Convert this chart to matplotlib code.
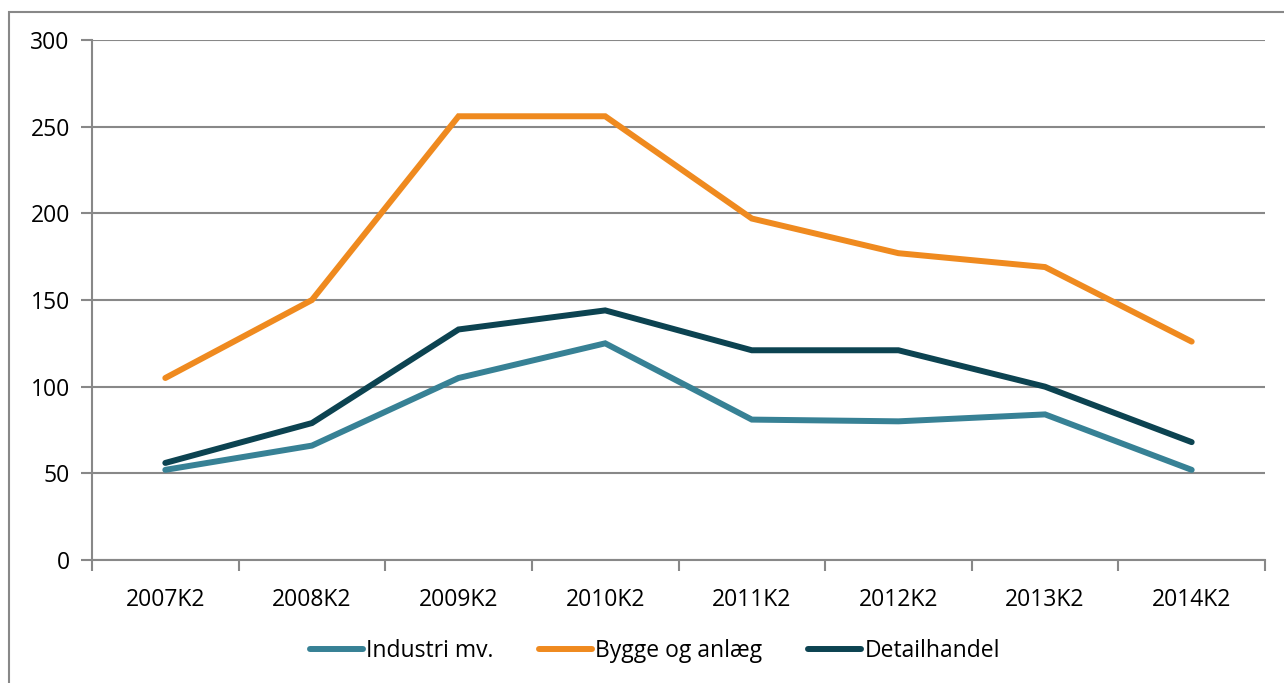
import matplotlib
matplotlib.use("Agg")
import matplotlib.pyplot as plt
from matplotlib.patches import Rectangle
from matplotlib.ticker import FixedLocator

categories = ["2007K2", "2008K2", "2009K2", "2010K2", "2011K2", "2012K2", "2013K2", "2014K2"]
industri = [52, 66, 105, 125, 81, 80, 84, 52]
bygge = [105, 150, 256, 256, 197, 177, 169, 126]
detail = [56, 79, 133, 144, 121, 121, 100, 68]
series_names = ["Industri mv.", "Bygge og anlæg", "Detailhandel"]
colors = ["#378195", "#EF8A1F", "#0C4351"]
yticks = [0, 50, 100, 150, 200, 250, 300]

plt.rcParams['font.family'] = ['Open Sans', 'DejaVu Sans']
W, H = 1284, 683
fig = plt.figure(figsize=(W / 100, H / 100), dpi=100)
ax = fig.add_axes([92 / W, (H - 560) / H, (1265 - 92) / W, (560 - 40) / H])

x = list(range(len(categories)))
for vals, name, c in zip([industri, bygge, detail], series_names, colors):
    ax.plot(x, vals, color=c, lw=4.3, label=name, solid_capstyle='round', solid_joinstyle='miter')

grey = "#888888"
fs = 16.5
ax.set_xlim(-0.5, len(categories) - 0.5)
ax.set_ylim(0, 300)
ax.set_yticks(yticks)
ax.yaxis.grid(True, color=grey, lw=1.5)
ax.set_axisbelow(True)
for s in ["top", "right"]:
    ax.spines[s].set_visible(False)
for s in ["left", "bottom"]:
    ax.spines[s].set_color(grey)
    ax.spines[s].set_linewidth(1.5)

ax.set_xticks(x)
ax.set_xticklabels(categories, fontsize=fs)
ax.xaxis.set_minor_locator(FixedLocator([i - 0.5 for i in range(len(categories) + 1)]))
ax.tick_params(axis='x', which='major', length=0, pad=20)
ax.tick_params(axis='x', which='minor', length=8, width=1.5, color=grey)
ax.tick_params(axis='y', length=8, width=1.5, color=grey, labelsize=fs, pad=8)

leg = ax.legend(loc='center', bbox_to_anchor=(0.48, -0.175), ncol=3, frameon=False,
                fontsize=fs, handlelength=2.3, handletextpad=0.15, columnspacing=2.0)

fig.patches.append(Rectangle((9 / W, -0.1), 2, 1 - 11.5 / H + 0.1, transform=fig.transFigure,
                             fill=False, edgecolor=grey, lw=1.5))

fig.savefig("out.png", dpi=100)
